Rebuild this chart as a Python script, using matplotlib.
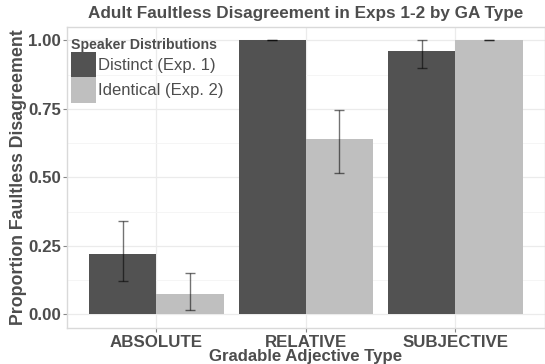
import numpy as np
import matplotlib
matplotlib.use("Agg")
import matplotlib.pyplot as plt
from matplotlib.ticker import MultipleLocator

categories = ["ABSOLUTE", "RELATIVE", "SUBJECTIVE"]
groups = ["Distinct (Exp. 1)", "Identical (Exp. 2)"]
distinct = [0.219, 1.00, 0.96]
distinct_lo = [0.121, 1.00, 0.90]
distinct_hi = [0.34, 1.00, 1.00]
identical = [0.075, 0.638, 1.00]
identical_lo = [0.0145, 0.516, 1.00]
identical_hi = [0.15, 0.744, 1.00]
yticks = [0.0, 0.25, 0.5, 0.75, 1.0]
ytick_labels = ['0.00', '0.25', '0.50', '0.75', '1.00']

plt.rcParams['font.family'] = ['Liberation Sans', 'DejaVu Sans']
txt = '#4d4d4d'

fig = plt.figure(figsize=(5.45, 3.64), dpi=100)
ax = fig.add_axes([0.1224, 0.099, 0.8776, 0.828])

x = np.arange(1, len(categories) + 1)
w = 0.45
cols = ['#525252', '#bfbfbf']
series = [(distinct, distinct_lo, distinct_hi), (identical, identical_lo, identical_hi)]
handles = []
for i, (vals, lo, hi) in enumerate(series):
    pos = x + (i - 0.5) * w
    vals = np.array(vals)
    b = ax.bar(pos, vals, width=w, color=cols[i], label=groups[i], zorder=2)
    handles.append(b)
    err = [vals - np.array(lo), np.array(hi) - vals]
    ax.errorbar(pos, vals, yerr=err, fmt='none', ecolor='black', alpha=0.55,
                elinewidth=1.0, capsize=3.5, capthick=1.0, zorder=3)

ax.set_xlim(0.4, 3.6)
ax.set_ylim(-0.05, 1.05)
ax.set_xticks(x)
ax.set_xticklabels(categories)
ax.set_yticks(yticks)
ax.set_yticklabels(ytick_labels)
ax.yaxis.set_minor_locator(MultipleLocator(0.125))
ax.grid(which='major', color='#ebebeb', lw=0.9, zorder=0)
ax.grid(which='minor', axis='y', color='#f4f4f4', lw=0.6, zorder=0)
ax.set_axisbelow(True)
for s in ax.spines.values():
    s.set_color('#d9d9d9')
    s.set_linewidth(1.0)
ax.tick_params(which='major', length=3, color='#888888', width=0.8, labelcolor=txt,
               labelsize=12.2)
ax.tick_params(which='minor', length=0)
ax.tick_params(axis='x', pad=2)
ax.tick_params(axis='y', pad=1)
for lab in ax.get_xticklabels() + ax.get_yticklabels():
    lab.set_fontweight('bold')

ax.set_title("Adult Faultless Disagreement in Exps 1-2 by GA Type", fontsize=12.3,
             fontweight='bold', color=txt, pad=6)
ax.set_xlabel("Gradable Adjective Type", fontsize=12.1, fontweight='bold', color=txt,
              labelpad=-1)
ax.set_ylabel("Proportion Faultless Disagreement", fontsize=12.8, fontweight='bold',
              color=txt, labelpad=1)

leg = ax.legend(handles=handles, title="Speaker Distributions", loc='upper left',
                bbox_to_anchor=(0.0, 0.975), frameon=False, fontsize=12,
                title_fontsize=10.2, handlelength=1.5, handleheight=1.95,
                labelspacing=0.0, handletextpad=0.15, borderpad=0.25,
                borderaxespad=0.0)
leg.get_title().set_fontweight('bold')
leg.get_title().set_color(txt)
leg._legend_box.align = 'left'
for t in leg.get_texts():
    t.set_color(txt)

fig.savefig('out.png', dpi=100)
